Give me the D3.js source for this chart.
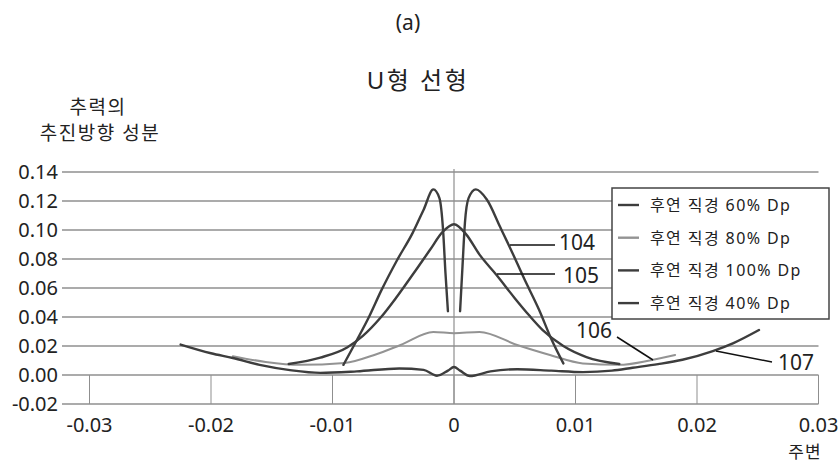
<!DOCTYPE html>
<html>
<head>
<meta charset="utf-8">
<script src="https://cdn.jsdelivr.net/npm/d3@7"></script>
<style>
  body { margin: 0; background: #fff; }
  text { font-family: "Noto Sans", "Noto Sans CJK KR", sans-serif; fill: #222; }
</style>
</head>
<body>
<div id="chart"></div>
<script>
var width = 838, height = 468;

// 후연 직경 60% Dp (104, double peak)
var s60x = [-0.0091, -0.0080, -0.0070, -0.0060, -0.0047, -0.0034, -0.0025, -0.0017, -0.0012, -0.0009, -0.0007, -0.0005];
var s60y = [0.007, 0.024, 0.040, 0.058, 0.079, 0.098, 0.114, 0.128, 0.122, 0.100, 0.070, 0.044];
var s60xr = [0.0005, 0.0007, 0.0009, 0.0012, 0.0018, 0.0027, 0.0038, 0.0046, 0.0058, 0.0070, 0.0080, 0.0090];
var s60yr = [0.044, 0.075, 0.105, 0.122, 0.128, 0.121, 0.102, 0.088, 0.066, 0.045, 0.025, 0.008];
// 후연 직경 80% Dp (106)
var s80x = [-0.0182, -0.0155, -0.0127, -0.0090, -0.0065, -0.0044, -0.0017, 0, 0.0021, 0.0052, 0.0079, 0.0106, 0.0136, 0.0161, 0.0182];
var s80y = [0.013, 0.009, 0.007, 0.0083, 0.014, 0.0207, 0.0297, 0.0288, 0.0297, 0.0207, 0.0138, 0.008, 0.007, 0.010, 0.0138];
// 후연 직경 100% Dp (105, single peak)
var s100x = [-0.0136, -0.0110, -0.0088, -0.0075, -0.0060, -0.0047, -0.0030, -0.0020, -0.0009, 0, 0.0010, 0.0021, 0.0035, 0.0050, 0.0062, 0.0073, 0.0090, 0.0109, 0.0136];
var s100y = [0.0076, 0.012, 0.019, 0.027, 0.040, 0.054, 0.074, 0.086, 0.099, 0.104, 0.097, 0.083, 0.069, 0.053, 0.041, 0.031, 0.020, 0.0124, 0.0076];
// 후연 직경 40% Dp (107, wide U)
var s40x = [-0.0225, -0.0200, -0.0182, -0.0160, -0.0135, -0.0110, -0.0080, -0.0045, -0.0025, -0.0014, -0.0005, 0, 0.0005, 0.0013, 0.0030, 0.0052, 0.0080, 0.0106, 0.0130, 0.0147, 0.0168, 0.0188, 0.0213, 0.0230, 0.0251];
var s40y = [0.021, 0.015, 0.0117, 0.007, 0.0034, 0.0015, 0.0025, 0.0045, 0.0035, -0.0005, 0.003, 0.0055, 0.003, -0.0007, 0.0025, 0.004, 0.003, 0.002, 0.003, 0.005, 0.0075, 0.0105, 0.0165, 0.022, 0.031];

var xTicks = [-0.03, -0.02, -0.01, 0, 0.01, 0.02, 0.03];
var xTickLabels = ["-0.03", "-0.02", "-0.01", "0", "0.01", "0.02", "0.03"];
var yTicks = [-0.02, 0, 0.02, 0.04, 0.06, 0.08, 0.10, 0.12, 0.14];
var yTickLabels = ["-0.02", "0.00", "0.02", "0.04", "0.06", "0.08", "0.10", "0.12", "0.14"];
var legendLabels = ["후연 직경 60% Dp", "후연 직경 80% Dp", "후연 직경 100% Dp", "후연 직경 40% Dp"];
var dark = "#3d3d3d", light = "#939393";
var legendColors = [dark, light, dark, dark];

var x = d3.scaleLinear().domain([-0.03, 0.03]).range([89.5, 818.5]);
var y = d3.scaleLinear().domain([-0.02, 0.14]).range([404, 172]);

var svg = d3.select("#chart").append("svg")
    .attr("width", width)
    .attr("height", height);

// titles
svg.append("text").attr("x", 408).attr("y", 30).attr("text-anchor", "middle")
    .style("font-size", "21px").text("(a)");
svg.append("text").attr("x", 418).attr("y", 89).attr("text-anchor", "middle")
    .style("font-size", "24px").style("letter-spacing", "2.5px").text("U형 선형");
svg.append("text").attr("x", 98).attr("y", 114).attr("text-anchor", "middle")
    .style("font-size", "19px").style("letter-spacing", "1.5px").text("추력의");
svg.append("text").attr("x", 100).attr("y", 140).attr("text-anchor", "middle")
    .style("font-size", "19px").style("letter-spacing", "1.5px").text("추진방향 성분");

// horizontal gridlines
svg.append("g").selectAll("line").data(yTicks).enter().append("line")
    .attr("x1", 62).attr("x2", 818.5)
    .attr("y1", d => y(d)).attr("y2", d => y(d))
    .attr("stroke", "#8f8f8f").attr("stroke-width", 1.6);

// vertical tick lines between 0 and -0.02
svg.append("g").selectAll("line").data(xTicks).enter().append("line")
    .attr("x1", d => x(d)).attr("x2", d => x(d))
    .attr("y1", y(0)).attr("y2", y(-0.02))
    .attr("stroke", "#8f8f8f").attr("stroke-width", 1);

// value axis at x = 0
svg.append("line").attr("x1", x(0)).attr("x2", x(0)).attr("y1", 169).attr("y2", y(-0.02))
    .attr("stroke", "#8f8f8f").attr("stroke-width", 1.2);

// y tick labels
svg.append("g").selectAll("text").data(yTicks).enter().append("text")
    .attr("x", 58).attr("y", d => y(d) + 7)
    .attr("text-anchor", "end").style("font-size", "20px")
    .text((d, i) => yTickLabels[i]);

// x tick labels
svg.append("g").selectAll("text").data(xTicks).enter().append("text")
    .attr("x", d => x(d)).attr("y", 432)
    .attr("text-anchor", "middle").style("font-size", "20px")
    .text((d, i) => xTickLabels[i]);

svg.append("text").attr("x", 805).attr("y", 458).attr("text-anchor", "middle")
    .style("font-size", "17px").style("letter-spacing", "1px").text("주변");

// curves
var line = d3.line().x(d => x(d[0])).y(d => y(d[1])).curve(d3.curveMonotoneX);
function draw(xs, ys, color, w) {
  svg.append("path").datum(d3.zip(xs, ys))
      .attr("d", line).attr("fill", "none")
      .attr("stroke", color).attr("stroke-width", w)
      .attr("stroke-linecap", "round").attr("stroke-linejoin", "round");
}
draw(s80x, s80y, light, 2);
draw(s40x, s40y, dark, 2.4);
draw(s100x, s100y, dark, 2.4);
draw(s60x, s60y, dark, 2.4);
draw(s60xr, s60yr, dark, 2.4);

// callouts
var callouts = [
  { label: "104", lx: 559, ly: 250, line: [[510, 245], [555, 245]] },
  { label: "105", lx: 563, ly: 283, line: [[497, 274], [555, 274]] },
  { label: "106", lx: 576, ly: 338, line: [[617, 337], [653, 360]] },
  { label: "107", lx: 778, ly: 370, line: [[716, 351], [772, 362]] }
];
callouts.forEach(function (c) {
  svg.append("line").attr("x1", c.line[0][0]).attr("y1", c.line[0][1])
      .attr("x2", c.line[1][0]).attr("y2", c.line[1][1])
      .attr("stroke", "#111").attr("stroke-width", 1.5);
  svg.append("text").attr("x", c.lx).attr("y", c.ly)
      .style("font-size", "21px").text(c.label);
});

// legend
var lg = svg.append("g");
lg.append("rect").attr("x", 612).attr("y", 188).attr("width", 217).attr("height", 131)
    .attr("fill", "#fff").attr("stroke", "#444").attr("stroke-width", 1.5);
legendLabels.forEach(function (t, i) {
  var ly = 205 + i * 32.7;
  lg.append("line").attr("x1", 618).attr("x2", 639).attr("y1", ly).attr("y2", ly)
      .attr("stroke", legendColors[i]).attr("stroke-width", 2.4);
  lg.append("text").attr("x", 650).attr("y", ly + 6)
      .style("font-size", "16px").style("letter-spacing", "1.4px").attr("fill", "#333").text(t);
});
</script>
</body>
</html>
